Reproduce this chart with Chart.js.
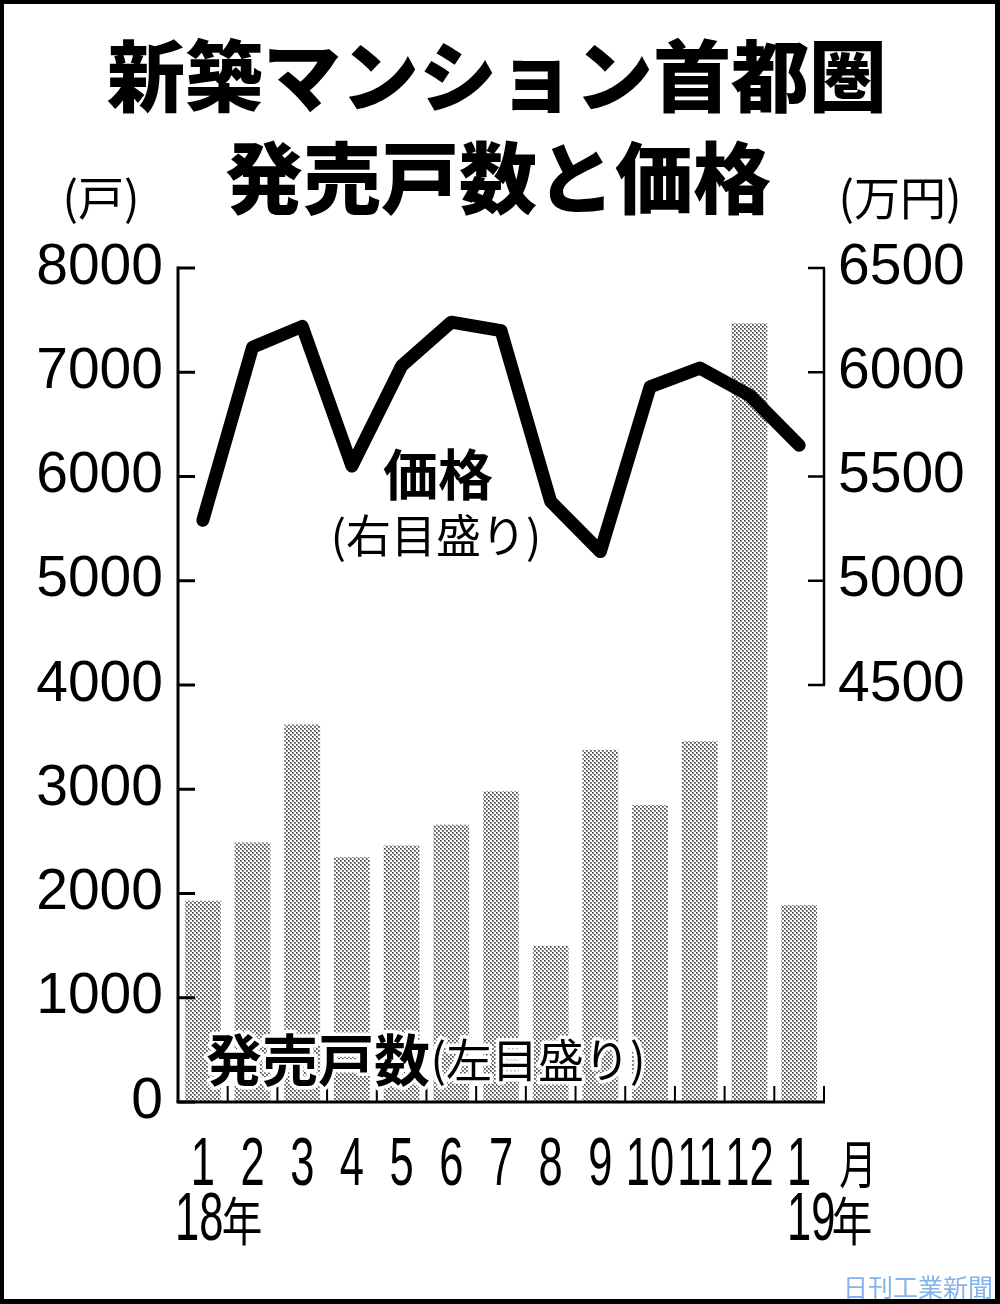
<!DOCTYPE html>
<html>
<head>
<meta charset="utf-8">
<script src="https://cdn.jsdelivr.net/npm/chart.js@4.4.1/dist/chart.umd.min.js"></script>
<style>
  body { margin: 0; background: #fff; }
  canvas { display: block; }
</style>
</head>
<body>
<canvas id="mansionChart" width="1000" height="1304"></canvas>
<script>
// months (18年1月 ~ 19年1月)
var months = ['1', '2', '3', '4', '5', '6', '7', '8', '9', '10', '11', '12', '1'];
// 発売戸数 (戸) - left axis
var units = [1930, 2490, 3620, 2350, 2460, 2660, 2980, 1500, 3380, 2850, 3460, 7470, 1890];
// 価格 (万円) - right axis
var prices = [5290, 6120, 6220, 5550, 6030, 6240, 6200, 5380, 5140, 5930, 6020, 5890, 5650];
// tick labels shown
var leftTicks = [0, 1000, 2000, 3000, 4000, 5000, 6000, 7000, 8000];
var rightTicks = [4500, 5000, 5500, 6000, 6500];

var JP = '"Noto Sans CJK JP", sans-serif';
var NUM = '"Liberation Sans", Arial, sans-serif';

// dotted screen tone for the bars
function makeDots() {
  var c = document.createElement('canvas');
  c.width = 4; c.height = 4;
  var g = c.getContext('2d');
  g.fillStyle = '#fff';
  g.fillRect(0, 0, 4, 4);
  g.fillStyle = '#8a8a8a';
  g.fillRect(0, 0, 2, 2); g.fillRect(2, 2, 2, 2);
  g.fillStyle = '#444';
  g.fillRect(0, 0, 1, 1); g.fillRect(2, 2, 1, 1);
  return g.createPattern(c, 'repeat');
}

function text(ctx, s, x, y, font, align, halo) {
  ctx.font = font;
  ctx.textAlign = align || 'center';
  ctx.textBaseline = 'middle';
  if (halo) {
    ctx.lineJoin = 'round';
    ctx.lineWidth = 7;
    ctx.strokeStyle = '#fff';
    ctx.strokeText(s, x, y);
  }
  ctx.fillStyle = '#000';
  ctx.fillText(s, x, y);
}

// condensed text (the paper uses a narrow face for the month row)
function narrow(ctx, s, x, y, font, sx, align) {
  ctx.save();
  ctx.translate(x, y);
  ctx.scale(sx, 1);
  ctx.font = font;
  ctx.textAlign = align || 'center';
  ctx.textBaseline = 'middle';
  ctx.fillStyle = '#000';
  ctx.fillText(s, 0, 0);
  ctx.restore();
}

// axes lines, inward ticks, and all the free texts
var decor = {
  id: 'decor',
  afterDatasetsDraw: function(chart) {
    var ctx = chart.ctx;
    var a = chart.chartArea;
    var x = chart.scales.x, y = chart.scales.y, y2 = chart.scales.y2;
    ctx.save();
    ctx.strokeStyle = '#000';
    ctx.lineCap = 'butt';

    // left axis
    ctx.lineWidth = 3;
    ctx.beginPath();
    ctx.moveTo(a.left, y.getPixelForValue(8000) - 1.5);
    ctx.lineTo(a.left, a.bottom);
    ctx.stroke();
    leftTicks.forEach(function(v) {
      var py = y.getPixelForValue(v);
      ctx.beginPath();
      ctx.moveTo(a.left, py);
      ctx.lineTo(a.left + 17, py);
      ctx.stroke();
    });

    // bottom axis
    ctx.beginPath();
    ctx.moveTo(a.left - 1.5, a.bottom);
    ctx.lineTo(a.right + 1, a.bottom);
    ctx.stroke();
    ctx.lineWidth = 2;
    for (var i = 0; i <= months.length; i++) {
      var px = (i === 0) ? a.left : (i === months.length ? a.right : (x.getPixelForValue(i - 1) + x.getPixelForValue(i)) / 2);
      ctx.beginPath();
      ctx.moveTo(px, a.bottom);
      ctx.lineTo(px, a.bottom - 16);
      ctx.stroke();
    }

    // right axis (4500 - 6500 only)
    ctx.lineWidth = 2.5;
    ctx.beginPath();
    ctx.moveTo(a.right, y2.getPixelForValue(6500));
    ctx.lineTo(a.right, y2.getPixelForValue(4500));
    ctx.stroke();
    rightTicks.forEach(function(v) {
      var py = y2.getPixelForValue(v);
      ctx.beginPath();
      ctx.moveTo(a.right - 16, py);
      ctx.lineTo(a.right + 1, py);
      ctx.stroke();
    });

    // month labels under each bar
    months.forEach(function(m, i) {
      narrow(ctx, m, x.getPixelForValue(i), 1166, '400 68px ' + NUM, 0.64);
    });

    // titles
    text(ctx, '新築マンション首都圏', 497, 76, '900 78px ' + JP);
    text(ctx, '発売戸数と価格', 498, 178, '900 78px ' + JP);
    text(ctx, '(戸)', 101, 198, '400 46px ' + JP);
    text(ctx, '(万円)', 900, 198, '400 46px ' + JP);

    // series labels
    text(ctx, '価格', 438, 474, '700 55px ' + JP);
    text(ctx, '(右目盛り)', 436, 536, '400 45px ' + JP);
    text(ctx, '発売戸数', 318, 1060, '700 56px ' + JP, 'center', true);
    text(ctx, '(左目盛り)', 538, 1060, '400 46px ' + JP, 'center', true);

    // month / year marks
    narrow(ctx, '月', 858, 1164, '400 52px ' + JP, 0.72);
    narrow(ctx, '18', 175, 1221, '400 68px ' + NUM, 0.64, 'left');
    narrow(ctx, '年', 242, 1221, '400 52px ' + JP, 0.78);
    narrow(ctx, '19', 787, 1221, '400 68px ' + NUM, 0.64, 'left');
    narrow(ctx, '年', 852, 1221, '400 52px ' + JP, 0.78);

    // watermark
    ctx.font = '400 25px ' + JP;
    ctx.textAlign = 'right';
    ctx.textBaseline = 'middle';
    ctx.fillStyle = 'rgba(110,165,230,0.85)';
    ctx.fillText('日刊工業新聞', 993, 1287);

    // frame
    ctx.fillStyle = '#000';
    ctx.fillRect(0, 0, 1000, 4);
    ctx.fillRect(0, 0, 4, 1304);
    ctx.fillRect(995, 0, 5, 1304);
    ctx.fillRect(0, 1299, 1000, 5);
    ctx.restore();
  }
};

var ctx = document.getElementById('mansionChart');
var mansionChart = new Chart(ctx, {
  data: {
    labels: months,
    datasets: [{
      type: 'line',
      label: '価格',
      data: prices,
      yAxisID: 'y2',
      borderColor: '#000',
      borderWidth: 13,
      borderJoinStyle: 'round',
      borderCapStyle: 'round',
      pointRadius: 0,
      tension: 0,
      order: 0
    }, {
      type: 'bar',
      label: '発売戸数',
      data: units,
      yAxisID: 'y',
      backgroundColor: makeDots(),
      borderWidth: 0,
      barPercentage: 0.72,
      categoryPercentage: 1,
      order: 1
    }]
  },
  options: {
    responsive: false,
    animation: false,
    layout: { padding: { top: 268, left: 0, right: 0, bottom: 0 } },
    plugins: {
      legend: { display: false },
      tooltip: { enabled: false }
    },
    scales: {
      x: {
        offset: true,
        grid: { display: false, drawTicks: false },
        border: { display: false },
        ticks: { display: false, autoSkip: false },
        afterFit: function(scale) { scale.height = 202; }
      },
      y: {
        position: 'left',
        min: 0,
        max: 8000,
        grid: { display: false, drawTicks: false },
        border: { display: false },
        ticks: {
          stepSize: 1000,
          padding: 15,
          color: '#000',
          font: { family: NUM, size: 57 },
          callback: function(v) { return String(v); }
        },
        afterFit: function(scale) { scale.width = 178; }
      },
      y2: {
        position: 'right',
        min: 2500,
        max: 6500,
        grid: { display: false, drawTicks: false },
        border: { display: false },
        ticks: {
          stepSize: 500,
          padding: 14,
          color: '#000',
          font: { family: NUM, size: 57 },
          callback: function(v) { return v >= 4500 ? String(v) : ''; }
        },
        afterFit: function(scale) { scale.width = 176; }
      }
    }
  },
  plugins: [decor]
});
</script>
</body>
</html>
